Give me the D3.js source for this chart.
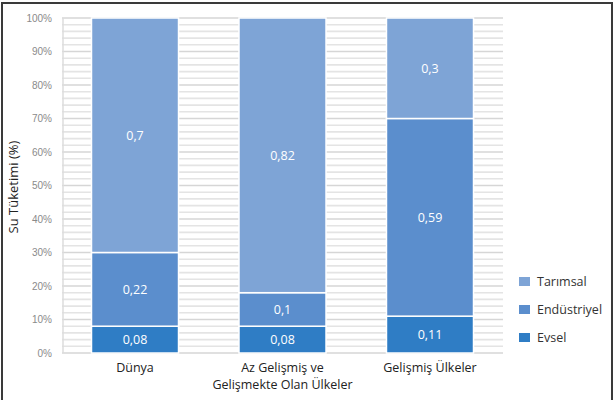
<!DOCTYPE html>
<html>
<head>
<meta charset="utf-8">
<script src="https://cdn.jsdelivr.net/npm/d3@7"></script>
<style>
  body { margin: 0; background: #fff; }
  svg { display: block; font-family: "Open Sans", Roboto, sans-serif; }
</style>
</head>
<body>
<svg id="chart" width="615" height="400"></svg>
<script>
const categories = ['Dünya', 'Az Gelişmiş ve\nGelişmekte Olan Ülkeler', 'Gelişmiş Ülkeler'];
const seriesNames = ['Evsel', 'Endüstriyel', 'Tarımsal'];
const evsel = [0.08, 0.08, 0.11];
const endustriyel = [0.22, 0.10, 0.59];
const tarimsal = [0.70, 0.82, 0.30];
const labels = [
  ['0,08', '0,08', '0,11'],
  ['0,22', '0,1', '0,59'],
  ['0,7', '0,82', '0,3']
];
const yTicks = [0, 0.1, 0.2, 0.3, 0.4, 0.5, 0.6, 0.7, 0.8, 0.9, 1];
const colors = ['#2f7dc5', '#5b8ecd', '#7ea4d6'];

const svg = d3.select('#chart');

// outer frame
svg.append('path')
  .attr('d', 'M2,400 V3 H612 V400')
  .attr('fill', 'none')
  .attr('stroke', '#3a3a3a')
  .attr('stroke-width', 2);

const margin = {left: 62, right: 112, top: 18, bottom: 47};
const width = 615 - margin.left - margin.right;
const height = 400 - margin.top - margin.bottom;

const g = svg.append('g').attr('transform', `translate(${margin.left},${margin.top})`);

const x = d3.scaleBand().domain(categories).range([0, width]).paddingInner(0.41).paddingOuter(0.2);
const y = d3.scaleLinear().domain([0, 1]).range([height, 0]);

// grid: minor every 2%, major every 10%
const minor = d3.range(0, 101, 2).map(d => d / 100);
g.append('g').selectAll('line').data(minor).enter().append('line')
  .attr('x1', 0).attr('x2', width)
  .attr('y1', d => y(d)).attr('y2', d => y(d))
  .attr('stroke', d => Math.round(d * 100) % 10 === 0 ? '#d6d6d6' : '#e4e4e4')
  .attr('stroke-width', 1.6);

g.append('line')
  .attr('x1', 1).attr('x2', 1).attr('y1', 0).attr('y2', height)
  .attr('stroke', '#dcdcdc').attr('stroke-width', 1.5);

// y axis labels
const yAxis = d3.axisLeft(y).tickValues(yTicks).tickFormat(d3.format('.0%')).tickSize(0).tickPadding(10);
g.append('g').call(yAxis)
  .call(a => a.select('.domain').remove())
  .selectAll('text')
  .attr('fill', '#8a8a8a')
  .style('font-size', '10px');

// stacked bars
const rows = categories.map((c, i) => ({cat: c, Evsel: evsel[i], 'Endüstriyel': endustriyel[i], 'Tarımsal': tarimsal[i]}));
const stack = d3.stack().keys(seriesNames)(rows);

stack.forEach((layer, si) => {
  const lg = g.append('g');
  lg.selectAll('rect').data(layer).enter().append('rect')
    .attr('x', d => x(d.data.cat))
    .attr('width', x.bandwidth())
    .attr('y', d => y(d[1]))
    .attr('height', d => y(d[0]) - y(d[1]))
    .attr('fill', colors[si])
    .attr('stroke', '#fff')
    .attr('stroke-width', 1.5);
  lg.selectAll('text').data(layer).enter().append('text')
    .attr('x', d => x(d.data.cat) + x.bandwidth() / 2)
    .attr('y', d => (y(d[0]) + y(d[1])) / 2)
    .attr('dy', '0.35em')
    .attr('text-anchor', 'middle')
    .attr('fill', '#fff')
    .style('font-size', '12.5px')
    .text((d, i) => labels[si][i]);
});

// x labels
const xl = g.append('g');
categories.forEach(c => {
  const parts = c.split('\n');
  const t = xl.append('text')
    .attr('x', x(c) + x.bandwidth() / 2)
    .attr('y', height + 19)
    .attr('text-anchor', 'middle')
    .attr('fill', '#222')
    .style('font-size', '12.5px');
  parts.forEach((p, i) => {
    t.append('tspan').attr('x', x(c) + x.bandwidth() / 2).attr('dy', i === 0 ? 0 : 17).text(p);
  });
});

// y title
svg.append('text')
  .attr('transform', 'translate(18,187) rotate(-90)')
  .attr('text-anchor', 'middle')
  .attr('fill', '#222')
  .style('font-size', '13px')
  .text('Su Tüketimi (%)');

// legend
const legendOrder = ['Tarımsal', 'Endüstriyel', 'Evsel'];
const legend = svg.append('g').attr('transform', 'translate(519,277)');
legendOrder.forEach((name, i) => {
  const row = legend.append('g').attr('transform', `translate(0,${i * 28})`);
  row.append('rect').attr('width', 11).attr('height', 9)
    .attr('fill', colors[seriesNames.indexOf(name)]);
  row.append('text').attr('x', 18).attr('y', 5).attr('dy', '0.35em')
    .attr('fill', '#333').style('font-size', '12.5px').text(name);
});
</script>
</body>
</html>
